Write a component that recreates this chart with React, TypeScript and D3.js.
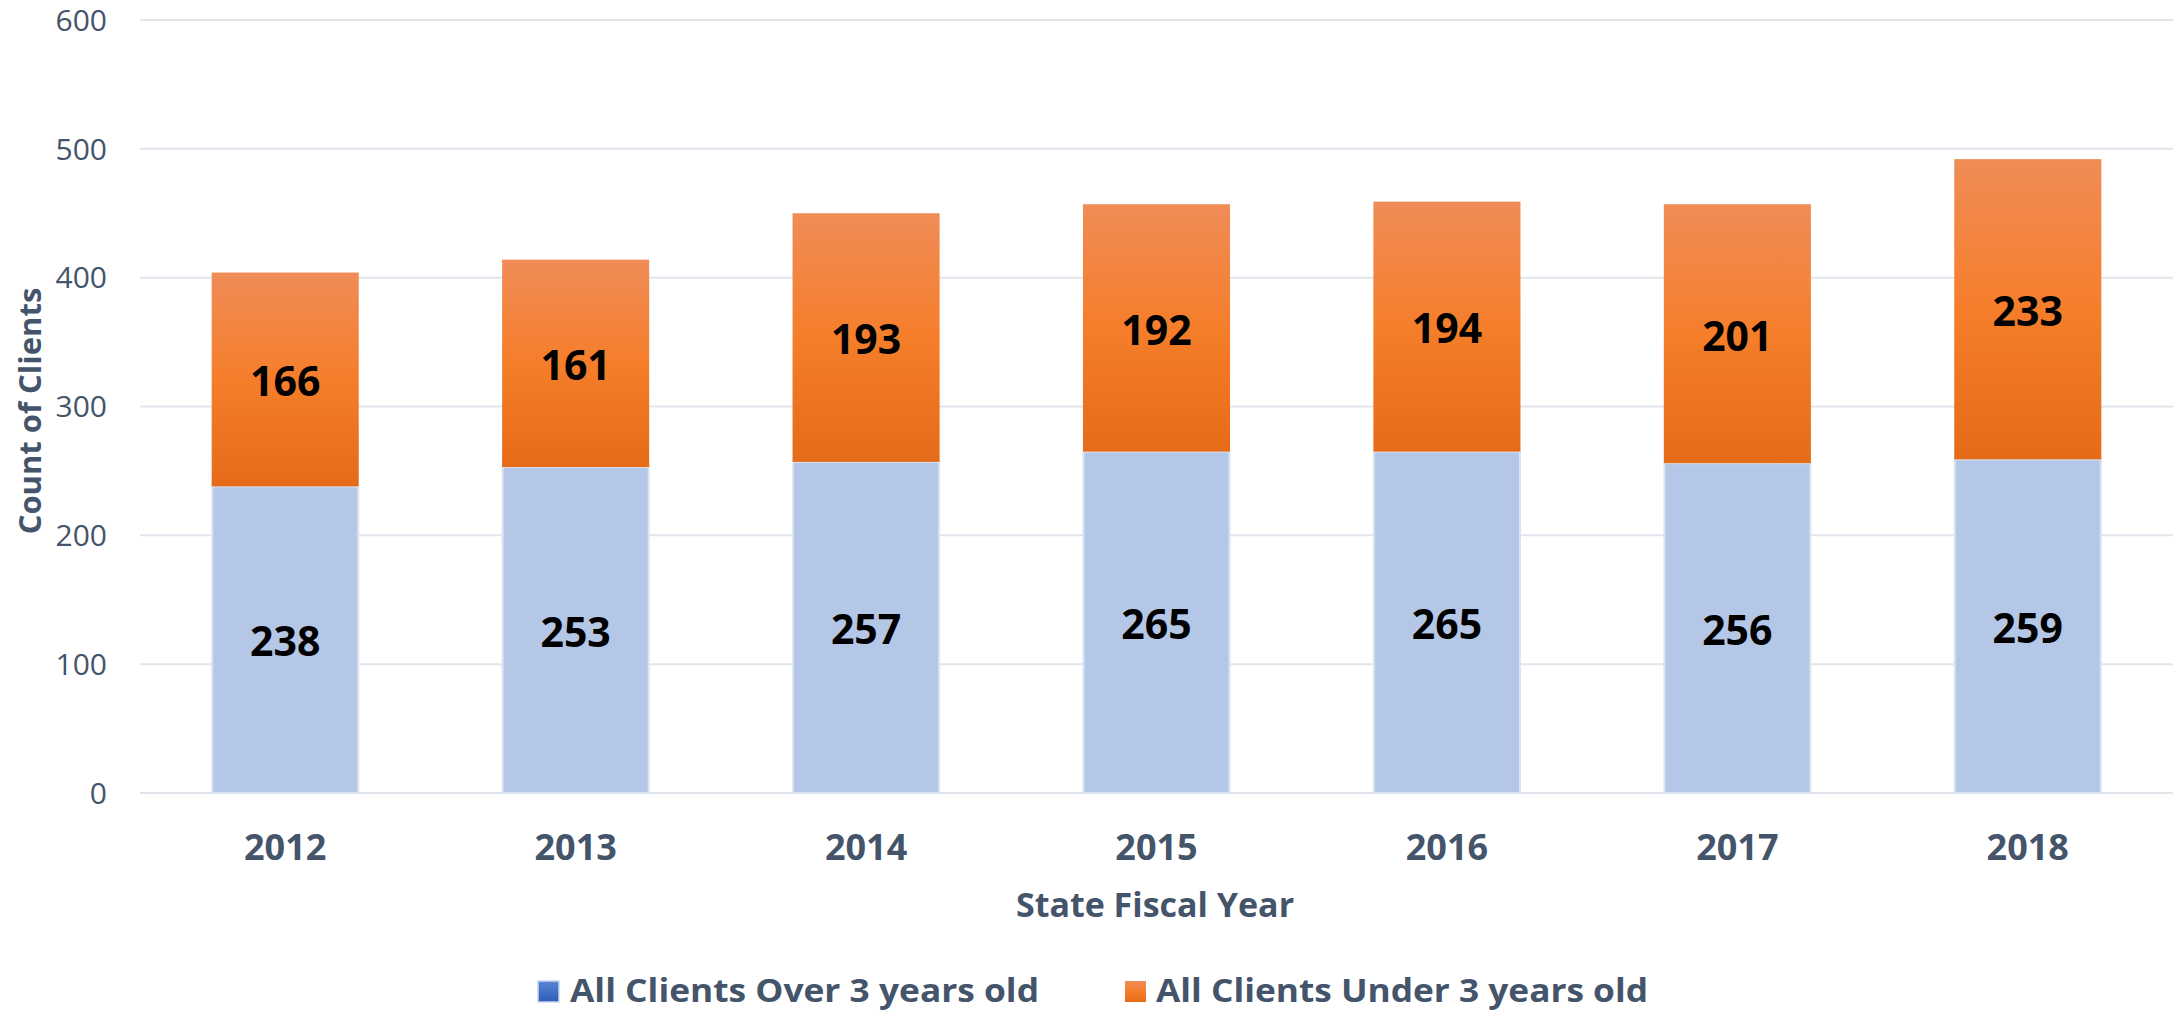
import React from "react";
import * as d3 from "d3";

const years = ["2012", "2013", "2014", "2015", "2016", "2017", "2018"];
const over3 = [238, 253, 257, 265, 265, 256, 259];
const under3 = [166, 161, 193, 192, 194, 201, 233];
const yTicks = [0, 100, 200, 300, 400, 500, 600];
const seriesNames = ["All Clients Over 3 years old", "All Clients Under 3 years old"];

const W = 2183;
const H = 1012;
const FONT = "'Open Sans', 'Noto Sans', sans-serif";
const TEXT = "#44546a";

export default function App() {
  const x = d3.scaleBand<string>().domain(years).range([140, 2173]).paddingInner(0.497).paddingOuter(0.2485);
  const y = d3.scaleLinear().domain([0, 600]).range([793, 20]);
  const bw = x.bandwidth();

  return (
    <svg width={W} height={H} style={{ position: "absolute", left: 0, top: 0, background: "#fff" }}>
      <defs>
        <linearGradient id="og" x1="0" y1="0" x2="0" y2="1">
          <stop offset="0" stopColor="#f08c57" />
          <stop offset="0.5" stopColor="#f57e2b" />
          <stop offset="1" stopColor="#e56b18" />
        </linearGradient>
        <linearGradient id="bg" x1="0" y1="0" x2="0" y2="1">
          <stop offset="0" stopColor="#5b86d2" />
          <stop offset="1" stopColor="#2c5cb8" />
        </linearGradient>
      </defs>
      {yTicks.map((t) => (
        <g key={t}>
          <line x1={140} x2={2173} y1={y(t)} y2={y(t)} stroke="#e1e5ec" strokeWidth={2} />
          <text x={107} y={y(t)} dy="0.36em" textAnchor="end" fontFamily={FONT} fontSize={30} fill={TEXT}>
            {t}
          </text>
        </g>
      ))}
      {years.map((yr, i) => {
        const x0 = x(yr)!;
        const b = over3[i];
        const o = under3[i];
        return (
          <g key={yr}>
            <rect x={x0} y={y(b)} width={bw} height={y(0) - y(b)} fill="#b4c7e7" stroke="#dce4f2" strokeWidth={2} />
            <rect x={x0 - 0.5} y={y(b + o)} width={bw + 1} height={y(b) - y(b + o)} fill="url(#og)" />
            <text x={x0 + bw / 2} y={y(b / 2)} dy="0.41em" textAnchor="middle" fontFamily={FONT} fontWeight={700} fontSize={41} fill="#000">
              {b}
            </text>
            <text x={x0 + bw / 2} y={y(b + o / 2)} dy="0.41em" textAnchor="middle" fontFamily={FONT} fontWeight={700} fontSize={41} fill="#000">
              {o}
            </text>
            <text x={x0 + bw / 2} y={860} textAnchor="middle" fontFamily={FONT} fontWeight={700} fontSize={36} fill={TEXT}>
              {yr}
            </text>
          </g>
        );
      })}
      <text x={1155} y={917} textAnchor="middle" fontFamily={FONT} fontWeight={700} fontSize={34} fill={TEXT}>
        State Fiscal Year
      </text>
      <text transform="translate(41,411) rotate(-90)" textAnchor="middle" fontFamily={FONT} fontWeight={700} fontSize={31} fill={TEXT}>
        Count of Clients
      </text>
      <g>
        <rect x={538} y={981} width={21} height={21} fill="url(#bg)" stroke="#c9d6ee" strokeWidth={1.5} />
        <text x={570} y={1002} fontFamily={FONT} fontWeight={700} fontSize={32} fill={TEXT} textLength={469} lengthAdjust="spacingAndGlyphs">
          {seriesNames[0]}
        </text>
        <rect x={1125} y={981} width={21} height={21} fill="url(#og)" />
        <text x={1156} y={1002} fontFamily={FONT} fontWeight={700} fontSize={32} fill={TEXT} textLength={492} lengthAdjust="spacingAndGlyphs">
          {seriesNames[1]}
        </text>
      </g>
    </svg>
  );
}
